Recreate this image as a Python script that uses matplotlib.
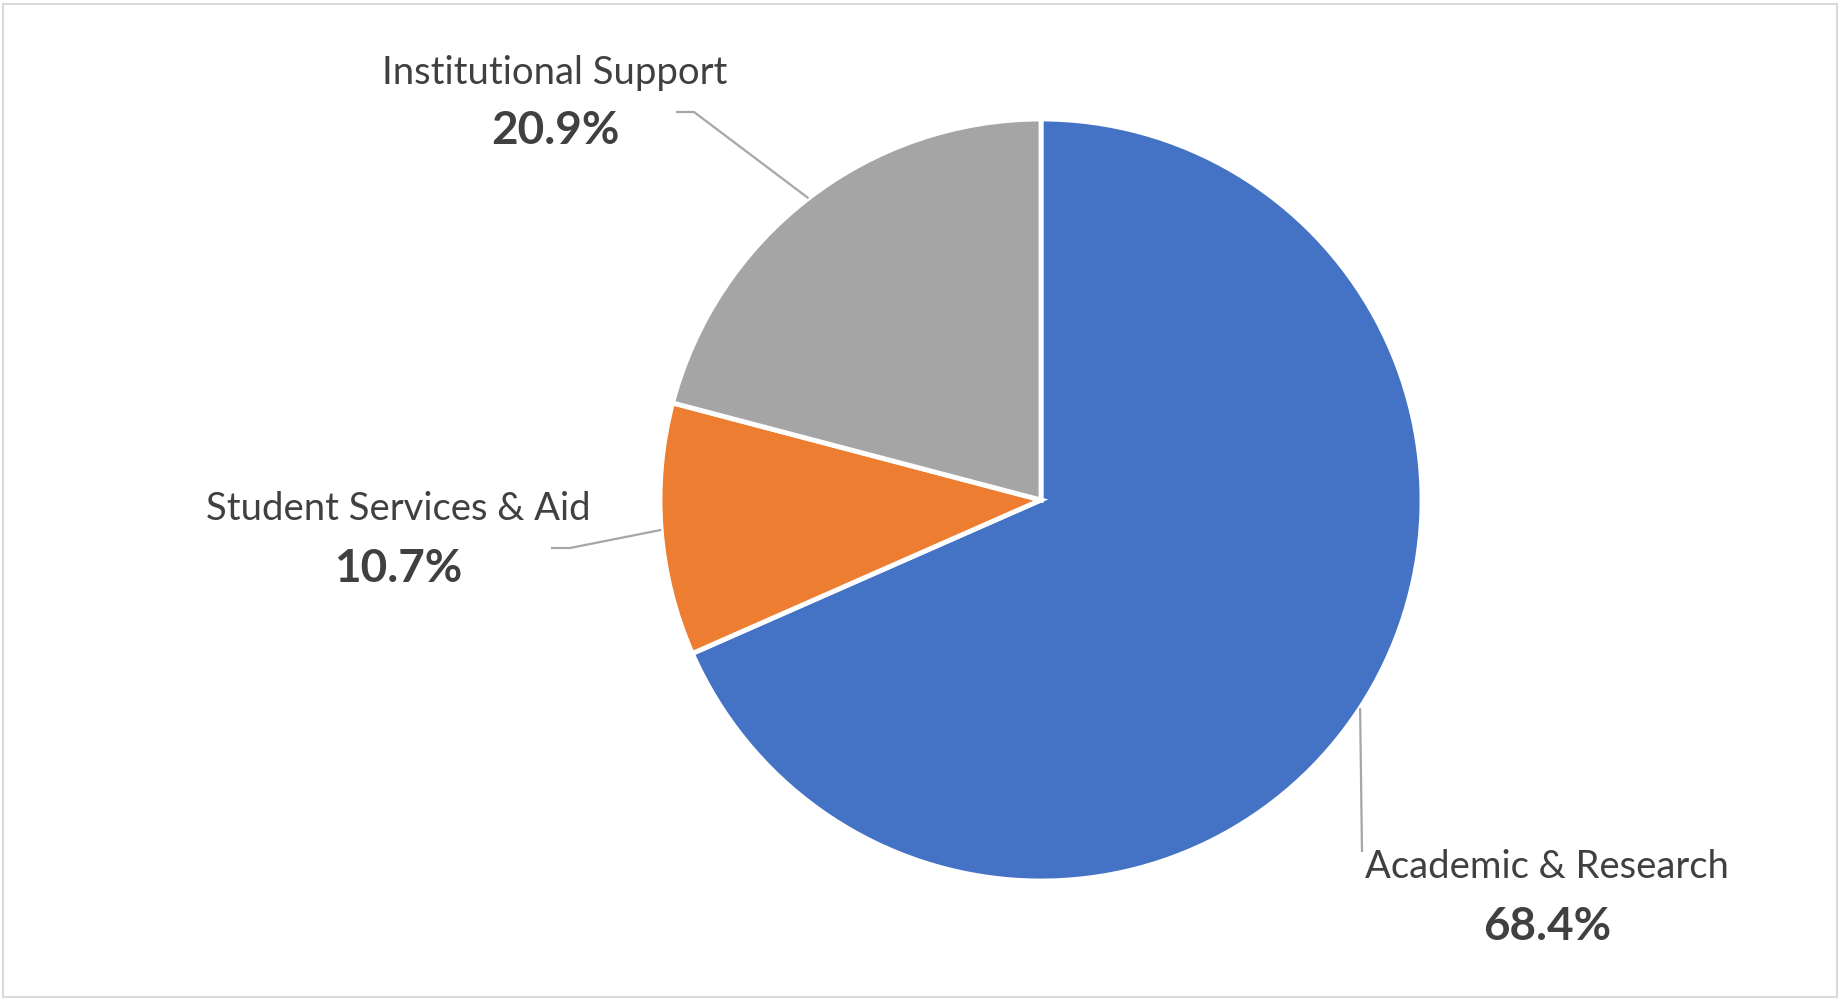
import numpy as np
import matplotlib
matplotlib.use("Agg")
import matplotlib.pyplot as plt
from matplotlib.patches import Rectangle

categories = ["Academic & Research", "Student Services & Aid", "Institutional Support"]
values = [68.4, 10.7, 20.9]
pct_labels = ["68.4%", "10.7%", "20.9%"]
colors = ["#4472C4", "#ED7D31", "#A5A5A5"]

W, H = 1842, 1003
plt.rcParams['font.family'] = ['Lato', 'DejaVu Sans']

fig = plt.figure(figsize=(W / 100, H / 100), dpi=100)
ax = fig.add_axes([0, 0, 1, 1])

# helper: image-pixel y (top-down) -> axes y (bottom-up)
def fy(y):
    return H - y

cx, cy, R = 1041, fy(501), 381
wedges, _ = ax.pie(values, colors=colors, startangle=90, counterclock=False,
                   center=(cx, cy), radius=R, frame=True,
                   wedgeprops=dict(edgecolor='white', linewidth=3.5))
ax.set_xlim(0, W)
ax.set_ylim(0, H)
ax.set_aspect('equal')
ax.axis('off')

# label layout (image pixel coordinates): text x, name y, pct y, elbow points
layout = [
    dict(tx=1547, ny=867, py=927, elbow=[(1362, 853)]),
    dict(tx=398, ny=509, py=569, elbow=[(570, 549), (551, 549)]),
    dict(tx=555, ny=73, py=131, elbow=[(694, 113), (676, 113)]),
]

line_col = "#A6A6A6"
text_col = "#404040"
for w, cat, pl, lay in zip(wedges, categories, pct_labels, layout):
    mid = np.deg2rad((w.theta1 + w.theta2) / 2)
    px = cx + R * np.cos(mid)
    py = cy + R * np.sin(mid)
    pts = [(px, py)] + [(x, fy(y)) for x, y in lay['elbow']]
    xs, ys = zip(*pts)
    ax.plot(xs, ys, color=line_col, lw=1.6, solid_capstyle='butt')
    ax.text(lay['tx'], fy(lay['ny']), cat, ha='center', va='center',
            fontsize=27.5, color=text_col)
    ax.text(lay['tx'], fy(lay['py']), pl, ha='center', va='center',
            fontsize=33, fontweight='bold', color=text_col)

ax.add_patch(Rectangle((3, 5), W - 8, H - 10, fill=False,
                       edgecolor="#D9D9D9", lw=1.5))

fig.savefig("out.png", dpi=100, facecolor='white')
